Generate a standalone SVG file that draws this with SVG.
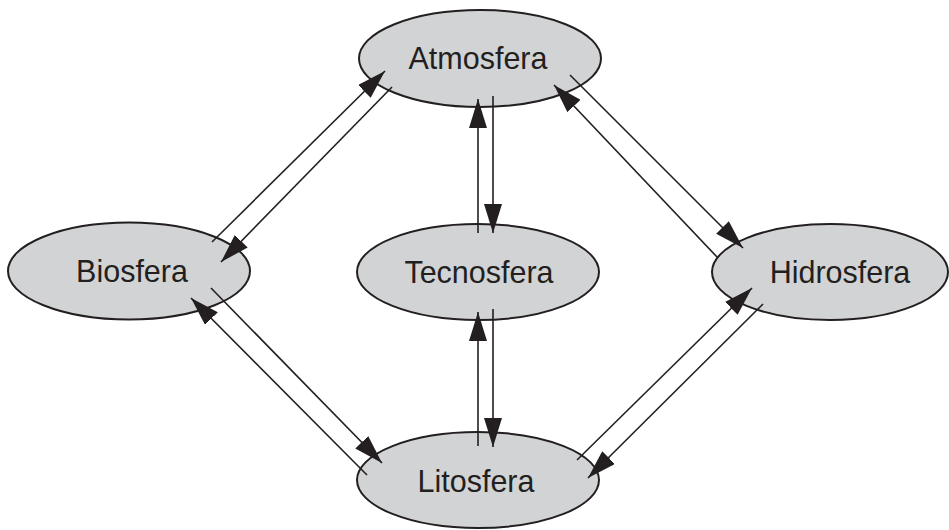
<svg xmlns="http://www.w3.org/2000/svg" width="949" height="530" viewBox="0 0 949 530">
<style>
.node ellipse{fill:#d1d3d4;stroke:#231f20;stroke-width:2}
.node text{font-family:"Liberation Sans",Arial,sans-serif;font-size:30.5px;fill:#231f20;text-anchor:middle}
.conn line{stroke:#231f20;stroke-width:1.6;marker-end:url(#ah)}
</style>
<defs>
<marker id="ah" markerUnits="userSpaceOnUse" markerWidth="29" markerHeight="18" refX="29" refY="9" orient="auto" viewBox="0 0 29 18">
<path d="M0,0 L29,9 L0,18 z" fill="#231f20"/>
</marker>
</defs>
<g id="atmosfera" class="node"><ellipse cx="480" cy="58.5" rx="121" ry="48.5"/><text x="478" y="69">Atmosfera</text></g>
<g id="biosfera" class="node"><ellipse cx="129" cy="271" rx="121" ry="48.5"/><text x="132" y="282">Biosfera</text></g>
<g id="tecnosfera" class="node"><ellipse cx="478" cy="272" rx="121" ry="48"/><text x="479" y="283">Tecnosfera</text></g>
<g id="hidrosfera" class="node"><ellipse cx="830" cy="272" rx="118" ry="48"/><text x="840" y="283">Hidrosfera</text></g>
<g id="litosfera" class="node"><ellipse cx="478" cy="480" rx="121" ry="48"/><text x="476" y="492">Litosfera</text></g>
<g id="connectors" class="conn">
<line x1="212" y1="242" x2="385" y2="71"/>
<line x1="392" y1="87" x2="221" y2="262"/>
<line x1="570" y1="75" x2="743" y2="248"/>
<line x1="717" y1="257" x2="554" y2="85"/>
<line x1="478" y1="233" x2="478" y2="99"/>
<line x1="493" y1="96" x2="493" y2="233"/>
<line x1="478" y1="446" x2="478" y2="312"/>
<line x1="493" y1="309" x2="493" y2="447"/>
<line x1="211" y1="288" x2="382" y2="463"/>
<line x1="367" y1="475" x2="191" y2="298"/>
<line x1="577" y1="460" x2="752" y2="288"/>
<line x1="763" y1="304" x2="588" y2="478"/>
</g>
</svg>
